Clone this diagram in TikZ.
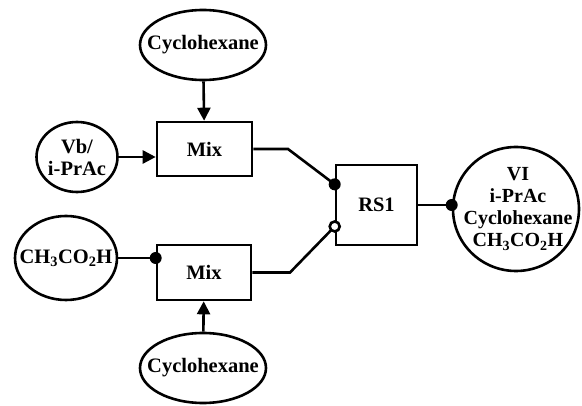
\documentclass[tikz,border=0pt]{standalone}
\usepackage{fontspec}
\setmainfont{Liberation Serif}
\usetikzlibrary{shapes.geometric,arrows.meta,calc}
\begin{document}
\begin{tikzpicture}[x=1pt,y=-1pt,
  every node/.style={font=\fontsize{20.5}{25}\selectfont\bfseries},
  feed/.style={draw,line width=2.6pt,ellipse,inner sep=0pt},
  tag/.style={inner sep=0pt,align=center},
  unit/.style={draw,line width=2.6pt,rectangle,inner sep=0pt},
  link/.style={line width=2.6pt},
  flow/.style={link,-{Triangle[length=13pt,width=13pt]}},
  fulldot/.style={circle,fill=black,inner sep=0pt,minimum size=12pt},
  opendot/.style={circle,draw,fill=white,line width=2.6pt,inner sep=0pt,minimum size=10pt}]
\useasboundingbox (0,0) rectangle (582,406);

% feeds: outlines first, then their labels on top
\node[feed,minimum width=126pt,minimum height=70pt] (cyA) at (203,45) {};
\node[feed,minimum width=126pt,minimum height=70pt] (cyB) at (203,368) {};
\node[feed,minimum width=81pt,minimum height=70pt] (vb) at (77,157) {};
\node[feed,minimum width=102pt,minimum height=84pt] (ac) at (66,258) {};
\node[tag] (cyAt) at (cyA) {Cyclohexane};
\node[tag] (cyBt) at (cyB) {Cyclohexane};
\node[tag] (vbt) at (vb) {Vb/\\[-3pt]i-PrAc};
\node[tag] (act) at (ac) {CH\textsubscript{3}CO\textsubscript{2}H};

% units
\node[unit,minimum width=95pt,minimum height=54pt] (mixA) at (204.5,149) {Mix};
\node[unit,minimum width=94pt,minimum height=55pt] (mixB) at (204,272.5) {Mix};
\node[unit,minimum width=81pt,minimum height=80pt] (rs) at (376.5,205) {RS1};

% product
\node[feed,minimum width=126pt,minimum height=124pt] (prod) at (516,209) {};
\node[tag,font=\fontsize{20}{25}\selectfont\bfseries] (prodt) at (518,209)
  {VI\\[-3pt]i-PrAc\\[-3pt]Cyclohexane\\[-3pt]CH\textsubscript{3}CO\textsubscript{2}H};

% ports on the separator
\coordinate (inA) at ($(rs.north west)!0.25!(rs.south west)$);
\coordinate (inB) at ($(rs.north west)!0.76!(rs.south west)$);
\coordinate (bendA) at (288,149);
\coordinate (bendB) at (290,272.5);

% feed streams
\draw[flow] (cyA) -- (mixA);
\draw[flow] (cyB) -- (mixB);
\draw[flow] (vb) -- (vb -| mixA.west);
\draw[link] (ac) -- (ac -| mixB.west);
\node[fulldot] (dAc) at (ac -| mixB.west) {};

% mixer outlets to separator
\draw[link] (mixA.east) -- (bendA) -- (inA);
\draw[link] (mixB.east) -- (bendB) -- (inB);
\node[fulldot] (dA) at (inA) {};
\node[opendot] (dB) at (inB) {};

% separator to product
\draw[link] (rs.east) -- (rs.east -| prod.west);
\node[fulldot] (dP) at (rs.east -| prod.west) {};
\end{tikzpicture}
\end{document}
